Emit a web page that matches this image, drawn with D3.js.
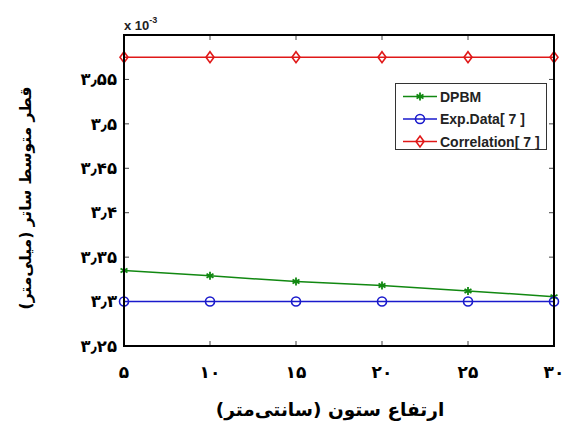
<!DOCTYPE html>
<html><head><meta charset="utf-8">
<script src="https://d3js.org/d3.v7.min.js"></script>
<style>body{margin:0;background:#fff;}</style>
</head><body>
<svg id="c" width="566" height="426"></svg>
<script>
const heights = [5, 10, 15, 20, 25, 30];
const dpbm = [3.335, 3.329, 3.3225, 3.318, 3.312, 3.3055];
const expData = [3.3, 3.3, 3.3, 3.3, 3.3, 3.3];
const correlation = [3.575, 3.575, 3.575, 3.575, 3.575, 3.575];
const xTicks = [5, 10, 15, 20, 25, 30];
const xTickLabels = ["۵", "۱۰", "۱۵", "۲۰", "۲۵", "۳۰"];
const yTicks = [3.25, 3.3, 3.35, 3.4, 3.45, 3.5, 3.55];
const yTickLabels = ["۳٫۲۵", "۳٫۳", "۳٫۳۵", "۳٫۴", "۳٫۴۵", "۳٫۵", "۳٫۵۵"];
const seriesNames = ["DPBM", "Exp.Data[ 7 ]", "Correlation[ 7 ]"];
const xTitle = "ارتفاع ستون (سانتی‌متر)";
const yTitle = "قطر متوسط ساتر (میلی‌متر)";

const svg = d3.select("#c");
const L = 124, R = 554, T = 35, B = 346;
const x = d3.scaleLinear().domain([5, 30]).range([L, R]);
const y = d3.scaleLinear().domain([3.25, 3.6]).range([B, T]);
const fa = "'DejaVu Sans', sans-serif";
const la = "'Liberation Sans', Arial, sans-serif";

// ticks inward on all sides
const g = svg.append("g");
const tk = 5;
xTicks.forEach(v => {
  g.append("line").attr("x1", x(v)).attr("x2", x(v)).attr("y1", B).attr("y2", B - tk).attr("stroke", "#444").attr("stroke-width", 1);
  g.append("line").attr("x1", x(v)).attr("x2", x(v)).attr("y1", T).attr("y2", T + tk).attr("stroke", "#444").attr("stroke-width", 1);
});
yTicks.forEach(v => {
  g.append("line").attr("x1", L).attr("x2", L + tk).attr("y1", y(v)).attr("y2", y(v)).attr("stroke", "#444").attr("stroke-width", 1);
  g.append("line").attr("x1", R).attr("x2", R - tk).attr("y1", y(v)).attr("y2", y(v)).attr("stroke", "#444").attr("stroke-width", 1);
});

// tick labels
xTicks.forEach((v, i) => {
  svg.append("text").attr("x", x(v)).attr("y", 378).attr("text-anchor", "middle")
    .attr("font-family", fa).attr("font-weight", "bold").attr("font-size", 17).text(xTickLabels[i]);
});
yTicks.forEach((v, i) => {
  svg.append("text").attr("x", 117).attr("y", y(v)).attr("dy", "0.35em").attr("text-anchor", "end")
    .attr("font-family", fa).attr("font-weight", "bold").attr("font-size", 16.5).text(yTickLabels[i]);
});

// exponent
const ex = svg.append("text").attr("x", 124).attr("y", 30).attr("font-family", la)
  .attr("font-weight", "bold").attr("font-size", 13).attr("fill", "#222");
ex.append("tspan").text("x 10");
ex.append("tspan").attr("dy", -7).attr("font-size", 9).text("-3");

// titles
svg.append("text").attr("x", 330).attr("y", 416).attr("text-anchor", "middle")
  .attr("font-family", fa).attr("font-weight", "bold").attr("font-size", 18.5).text(xTitle);
svg.append("text").attr("transform", "translate(31,198) rotate(-90)").attr("text-anchor", "middle")
  .attr("font-family", fa).attr("font-weight", "bold").attr("font-size", 15.5).text(yTitle);

const colors = ["#118811", "#1a1acc", "#e01818"];
const data = [dpbm, expData, correlation];
const line = d3.line().x((d, i) => x(heights[i])).y(d => y(d));

function marker(sel, k, cx, cy) {
  const c = colors[k];
  if (k === 0) {
    const r = 4;
    for (let a = 0; a < 3; a++) {
      const ang = a * Math.PI / 3 + Math.PI / 2;
      sel.append("line").attr("x1", cx + r * Math.cos(ang)).attr("y1", cy + r * Math.sin(ang))
        .attr("x2", cx - r * Math.cos(ang)).attr("y2", cy - r * Math.sin(ang))
        .attr("stroke", c).attr("stroke-width", 1.8);
    }
  } else if (k === 1) {
    sel.append("circle").attr("cx", cx).attr("cy", cy).attr("r", 4.5).attr("fill", "none").attr("stroke", c).attr("stroke-width", 1.6);
  } else {
    sel.append("path").attr("d", `M${cx},${cy - 5.5}L${cx + 4},${cy}L${cx},${cy + 5.5}L${cx - 4},${cy}Z`)
      .attr("fill", "none").attr("stroke", c).attr("stroke-width", 1.6);
  }
}

data.forEach((arr, k) => {
  svg.append("path").datum(arr).attr("d", line).attr("fill", "none").attr("stroke", colors[k]).attr("stroke-width", 1.5);
  arr.forEach((v, i) => marker(svg, k, x(heights[i]), y(v)));
});

// frame
svg.append("rect").attr("x", L).attr("y", T).attr("width", R - L).attr("height", B - T)
  .attr("fill", "none").attr("stroke", "#000").attr("stroke-width", 2);

// legend
const lg = svg.append("g");
lg.append("rect").attr("x", 395.5).attr("y", 83.5).attr("width", 151).attr("height", 66)
  .attr("fill", "#fff").attr("stroke", "#333").attr("stroke-width", 1);
const rowY = [96.5, 119, 141.5];
seriesNames.forEach((n, k) => {
  lg.append("line").attr("x1", 403).attr("x2", 437).attr("y1", rowY[k]).attr("y2", rowY[k]).attr("stroke", colors[k]).attr("stroke-width", 1.5);
  marker(lg, k, 420, rowY[k]);
  lg.append("text").attr("x", 440).attr("y", rowY[k]).attr("dy", "0.36em")
    .attr("font-family", la).attr("font-weight", "bold").attr("font-size", 14).attr("fill", "#222").text(n);
});
</script>
</body></html>
